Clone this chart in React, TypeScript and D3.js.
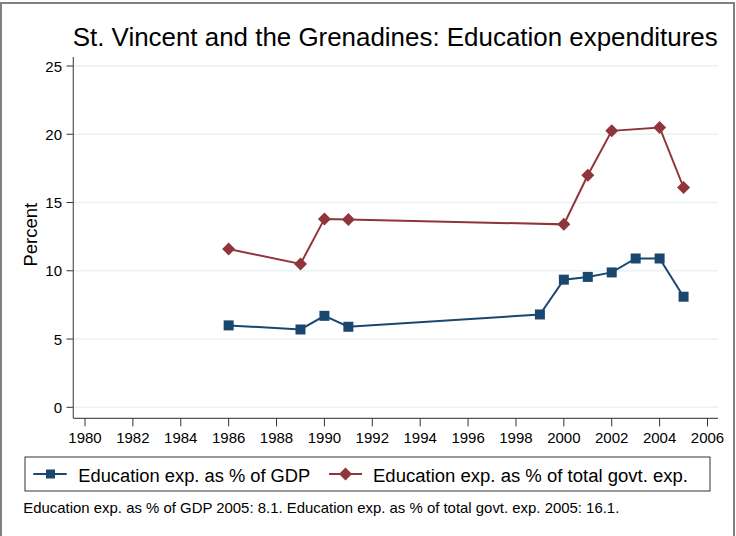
import React from "react";
import * as d3 from "d3";

const years = [1986, 1989, 1990, 1991, 1999, 2000, 2001, 2002, 2003, 2004, 2005];
const gdpValues = [6.0, 5.7, 6.7, 5.9, 6.8, 9.35, 9.55, 9.88, 10.9, 10.9, 8.1];
const govYears = [1986, 1989, 1990, 1991, 2000, 2001, 2002, 2004, 2005];
const govValues = [11.6, 10.5, 13.8, 13.75, 13.4, 17.0, 20.25, 20.5, 16.1];
const xTicks = d3.range(1980, 2007, 2);
const yTicks = [0, 5, 10, 15, 20, 25];

const BLUE = "#1a476f";
const RED = "#90353b";
const FONT = "'Liberation Sans', Arial, sans-serif";

export default function App() {
  const W = 736, H = 536;
  const x = d3.scaleLinear().domain([1980, 2006]).range([85, 707.5]);
  const y = d3.scaleLinear().domain([0, 25]).range([407.3, 66]);
  const plotLeft = 73.3, plotRight = 718, plotBottom = 418.3, plotTop = 57;

  const gdp = years.map((yr, i) => ({ x: yr, v: gdpValues[i] }));
  const gov = govYears.map((yr, i) => ({ x: yr, v: govValues[i] }));
  const line = d3.line<{ x: number; v: number }>().x(d => x(d.x)).y(d => y(d.v));

  const sq = 10;
  const dia = (cx: number, cy: number, r: number) =>
    `M${cx},${cy - r}L${cx + r},${cy}L${cx},${cy + r}L${cx - r},${cy}Z`;

  return (
    <svg width={W} height={H} style={{ position: "absolute", left: 0, top: 0, background: "#fff" }} fontFamily={FONT}>
      <rect x={0} y={0} width={W} height={H} fill="#fff" />
      <rect x={1} y={3} width={733} height={540} fill="none" stroke="#808080" strokeWidth={2} />
      <text x={72.7} y={45.5} fontSize={26} fill="#000" textLength={645} lengthAdjust="spacingAndGlyphs">
        St. Vincent and the Grenadines: Education expenditures
      </text>
      {yTicks.map(t => (
        <g key={t}>
          <line x1={plotLeft} x2={plotRight} y1={y(t)} y2={y(t)} stroke="#eaf2f3" strokeWidth={1.5} />
          <line x1={66.5} x2={plotLeft} y1={y(t)} y2={y(t)} stroke="#333" strokeWidth={1} />
          <text x={62} y={y(t) + 5.5} textAnchor="end" fontSize={15} fill="#000">{t}</text>
        </g>
      ))}
      <line x1={plotLeft} x2={plotLeft} y1={plotTop} y2={plotBottom} stroke="#555" strokeWidth={1.2} />
      <line x1={plotLeft} x2={plotRight} y1={plotBottom} y2={plotBottom} stroke="#555" strokeWidth={1.2} />
      {xTicks.map(t => (
        <g key={t}>
          <line x1={x(t)} x2={x(t)} y1={plotBottom} y2={plotBottom + 8} stroke="#333" strokeWidth={1} />
          <text x={x(t)} y={443} textAnchor="middle" fontSize={15} fill="#000">{t}</text>
        </g>
      ))}
      <text transform={`translate(37,234.7) rotate(-90)`} textAnchor="middle" fontSize={18.5} fill="#000">Percent</text>

      <path d={line(gdp) || ""} fill="none" stroke={BLUE} strokeWidth={2} />
      {gdp.map((d, i) => (
        <rect key={i} x={x(d.x) - sq / 2} y={y(d.v) - sq / 2} width={sq} height={sq} fill={BLUE} />
      ))}
      <path d={line(gov) || ""} fill="none" stroke={RED} strokeWidth={2} />
      {gov.map((d, i) => (
        <path key={i} d={dia(x(d.x), y(d.v), 6.5)} fill={RED} />
      ))}

      <rect x={25} y={457} width={685} height={34} fill="#fff" stroke="#333" strokeWidth={1} />
      <line x1={33.3} x2={66.7} y1={474} y2={474} stroke={BLUE} strokeWidth={2} />
      <rect x={50.5 - 4.5} y={474 - 4.5} width={9} height={9} fill={BLUE} />
      <text x={78.3} y={482} fontSize={18} fill="#000" textLength={232} lengthAdjust="spacingAndGlyphs">Education exp. as % of GDP</text>
      <line x1={329} x2={362} y1={474} y2={474} stroke={RED} strokeWidth={2} />
      <path d={dia(345.5, 474, 6.5)} fill={RED} />
      <text x={373} y={482} fontSize={18} fill="#000" textLength={315} lengthAdjust="spacingAndGlyphs">Education exp. as % of total govt. exp.</text>

      <text x={23.3} y={512.5} fontSize={15} fill="#000" textLength={596} lengthAdjust="spacingAndGlyphs">
        Education exp. as % of GDP 2005: 8.1. Education exp. as % of total govt. exp. 2005: 16.1.
      </text>
    </svg>
  );
}
